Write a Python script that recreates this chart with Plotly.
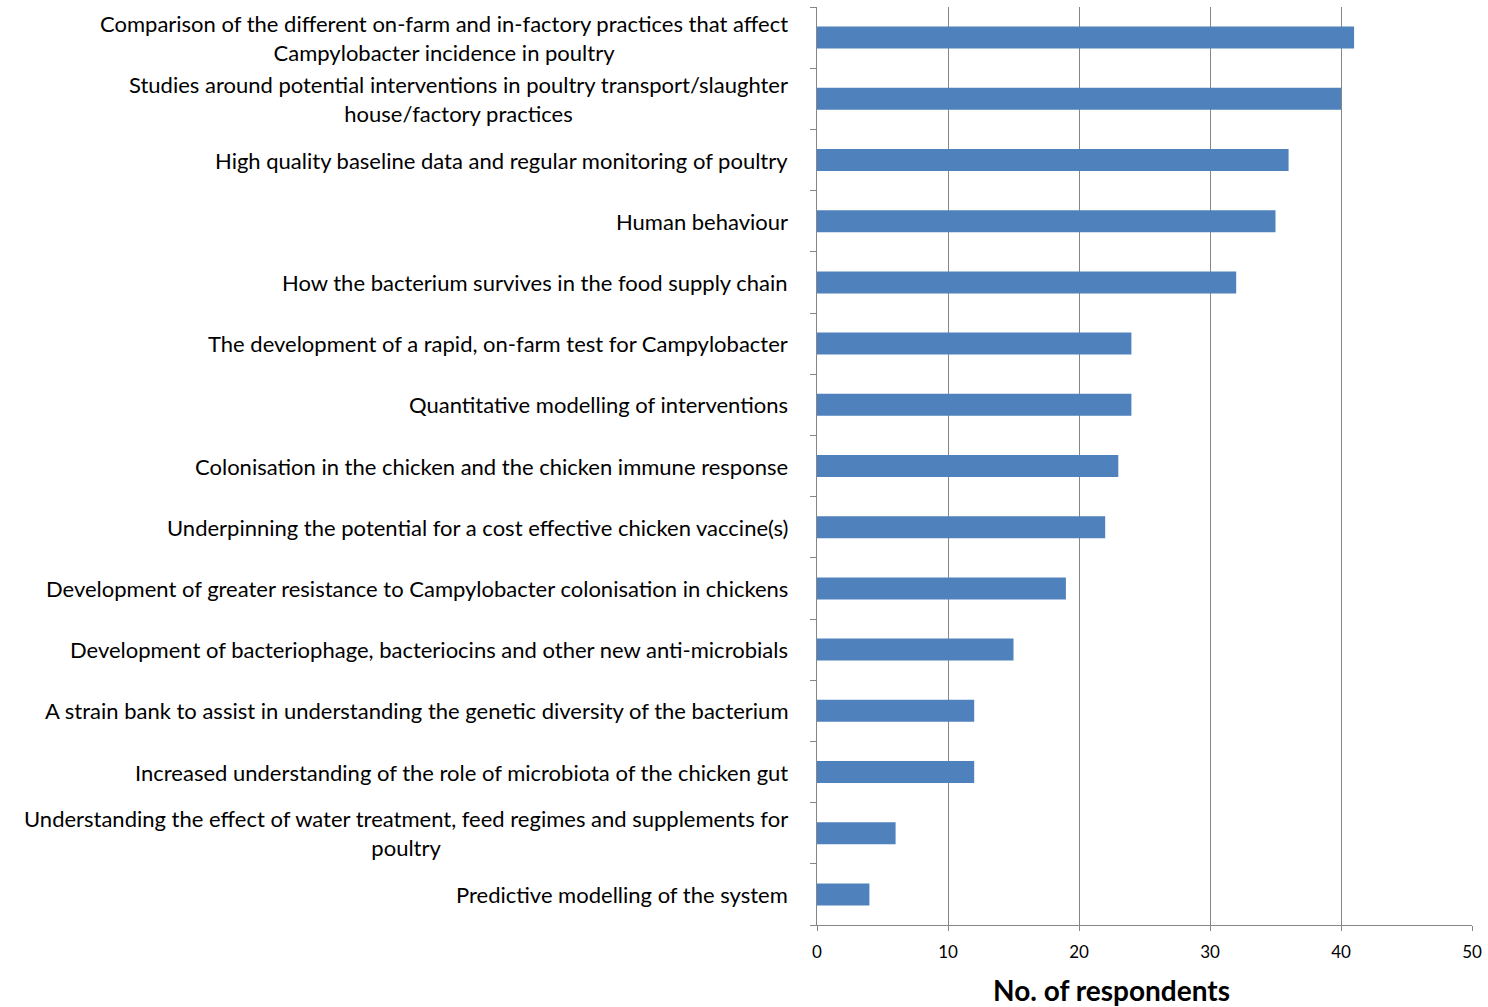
import plotly.graph_objects as go

categories = [
    "Comparison of the different on-farm and in-factory practices that affect<br>Campylobacter incidence in poultry",
    "Studies around potential interventions in poultry transport/slaughter<br>house/factory practices",
    "High quality baseline data and regular monitoring of poultry",
    "Human behaviour",
    "How the bacterium survives in the food supply chain",
    "The development of a rapid, on-farm test for Campylobacter",
    "Quantitative modelling of interventions",
    "Colonisation in the chicken and the chicken immune response",
    "Underpinning the potential for a cost effective chicken vaccine(s)",
    "Development of greater resistance to Campylobacter colonisation in chickens",
    "Development of bacteriophage, bacteriocins and other new anti-microbials",
    "A strain bank to assist in understanding the genetic diversity of the bacterium",
    "Increased understanding of the role of microbiota of the chicken gut",
    "Understanding the effect of water treatment, feed regimes and supplements for<br>poultry",
    "Predictive modelling of the system",
]
respondents = [41, 40, 36, 35, 32, 24, 24, 23, 22, 19, 15, 12, 12, 6, 4]
x_ticks = [0, 10, 20, 30, 40, 50]
x_title = "No. of respondents"

FONT = "Lato"

fig = go.Figure(go.Bar(
    x=respondents,
    y=list(range(len(categories))),
    orientation="h",
    marker=dict(color="#4F81BD", line=dict(width=0)),
    width=0.36,
))

annotations = []
for i, lab in enumerate(categories):
    annotations.append(dict(
        x=0, xref="paper", y=i, yref="y", text=lab,
        xanchor="right", yanchor="middle", align="center", xshift=-27,
        showarrow=False, font=dict(family=FONT, size=22, color="#000000"),
    ))
annotations.append(dict(
    x=0.449, xref="paper", y=0, yref="paper", yshift=-65, text="<b>" + x_title + "</b>",
    xanchor="center", yanchor="middle", showarrow=False,
    font=dict(family=FONT, size=28, color="#000000"),
))

fig.update_layout(
    width=1488, height=1007,
    margin=dict(l=817, r=16, t=7, b=82),
    paper_bgcolor="white", plot_bgcolor="white",
    showlegend=False,
    annotations=annotations,
    xaxis=dict(
        range=[0, 50], tickvals=x_ticks, ticktext=[str(v) for v in x_ticks],
        showgrid=True, gridcolor="#868686", gridwidth=1,
        showline=True, linecolor="#868686", linewidth=1,
        ticks="outside", ticklen=5, tickcolor="#868686",
        ticklabelstandoff=7,
        tickfont=dict(family=FONT, size=17, color="#000000"),
        zeroline=False, fixedrange=True,
    ),
    yaxis=dict(
        range=[len(categories) - 0.5, -0.5],
        tickvals=[i - 0.5 for i in range(len(categories) + 1)],
        showticklabels=False,
        showgrid=False, showline=True, linecolor="#868686", linewidth=1,
        ticks="outside", ticklen=6, tickcolor="#868686",
        zeroline=False, fixedrange=True,
    ),
)

fig.write_html("out.html")
